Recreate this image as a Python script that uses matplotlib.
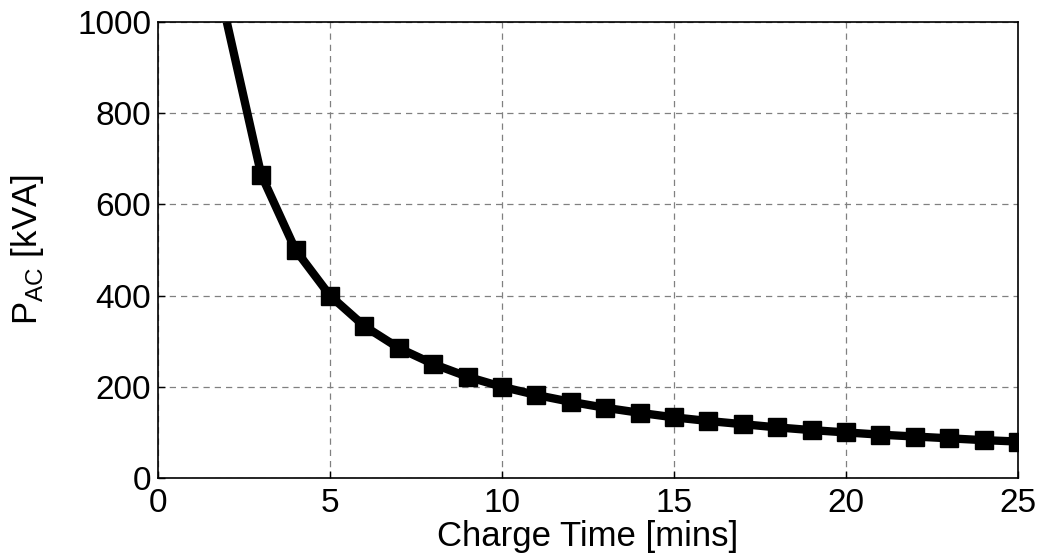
import matplotlib
matplotlib.use("Agg")
import matplotlib.pyplot as plt

plt.rcParams['font.family'] = ['Liberation Sans', 'DejaVu Sans']

# charge time [mins] and AC power [kVA]
line_t = [2, 3, 4, 5, 6, 7, 8, 9, 10, 11, 12, 13, 14, 15, 16, 17, 18, 19, 20, 21, 22, 23, 24, 25]
line_p = [1000, 665, 500, 400, 333, 285, 250, 222, 200, 182, 167, 154, 143, 133, 125, 118, 111, 105, 100, 95, 91, 87, 83, 80]
marker_t = line_t[1:]
marker_p = line_p[1:]

xticks = [0, 5, 10, 15, 20, 25]
yticks = [0, 200, 400, 600, 800, 1000]

fig = plt.figure(figsize=(10.4, 5.6), dpi=100)
ax = fig.add_axes([158/1040, 1 - 478/560, (1018-158)/1040, (478-22)/560])

ax.plot(line_t, line_p, color='black', lw=6, solid_capstyle='butt', zorder=3)
ax.plot(marker_t, marker_p, ls='none', marker='s', ms=13, color='black', zorder=4)

ax.set_xlim(0, 25)
ax.set_ylim(0, 1000)
ax.set_xticks(xticks)
ax.set_yticks(yticks)
ax.grid(True, color='#808080', ls=(0, (5, 4)), lw=0.9)
ax.set_axisbelow(True)
ax.tick_params(direction='in', length=5, width=1, labelsize=24, top=False, right=False, pad=5)
ax.tick_params(axis='x', pad=7)
for s in ax.spines.values():
    s.set_linewidth(1.2)

ax.set_xlabel('Charge Time [mins]', fontsize=25, labelpad=1)
ax.set_ylabel(r'P$_{\mathregular{AC}}$ [kVA]', fontsize=25, labelpad=22)

fig.savefig('out.png', dpi=100)
